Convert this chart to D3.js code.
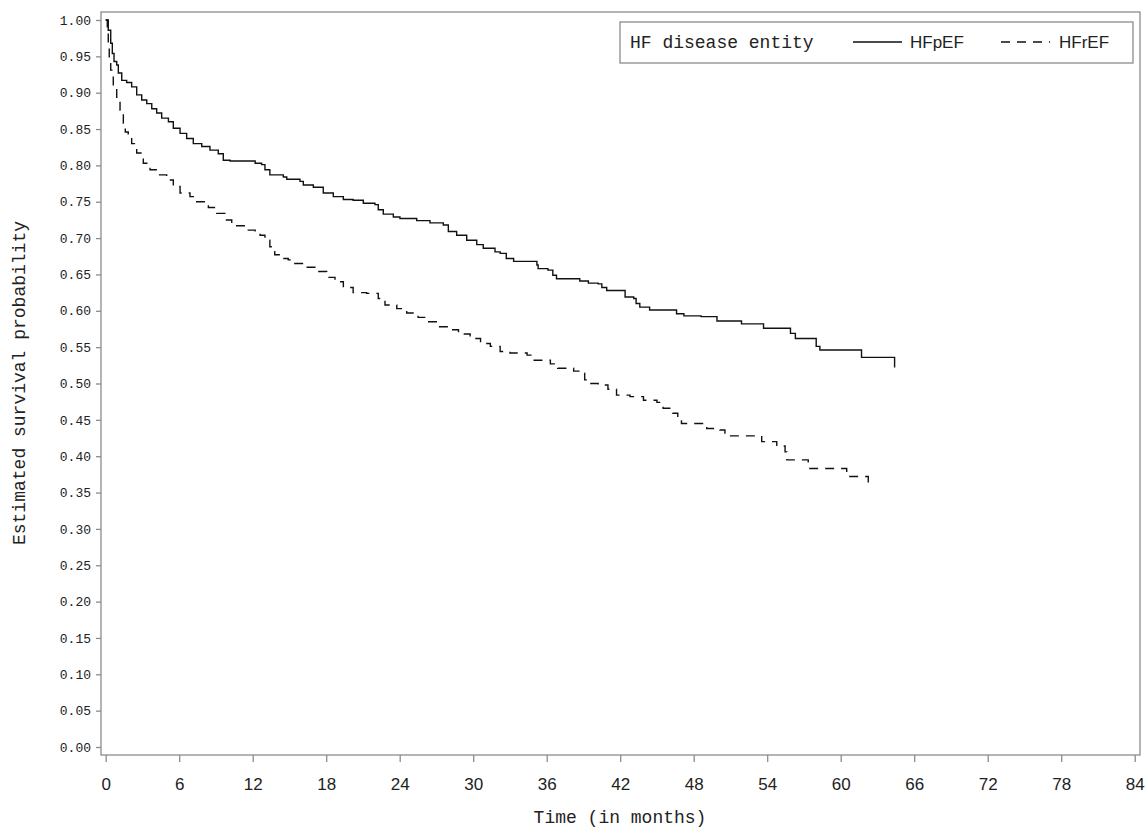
<!DOCTYPE html>
<html>
<head>
<meta charset="utf-8">
<script src="https://cdn.jsdelivr.net/npm/d3@7"></script>
<style>
  html, body { margin: 0; padding: 0; background: #fff; }
  svg { display: block; }
</style>
</head>
<body>
<svg id="chart" width="1148" height="831"></svg>
<script>
// ---- data ----
const xTicks = [0, 6, 12, 18, 24, 30, 36, 42, 48, 54, 60, 66, 72, 78, 84];
const yTicks = [0, 0.05, 0.10, 0.15, 0.20, 0.25, 0.30, 0.35, 0.40, 0.45, 0.50,
                0.55, 0.60, 0.65, 0.70, 0.75, 0.80, 0.85, 0.90, 0.95, 1.00];
const seriesNames = ["HFpEF", "HFrEF"];
const legendTitle = "HF disease entity";
const xTitle = "Time (in months)";
const yTitle = "Estimated survival probability";

const hfpefTime = [0, 0.21, 0.41, 0.54, 0.68, 0.90, 1.03, 1.31, 1.71, 2.12, 2.53, 2.94, 3.35, 3.76, 4.16,
  4.57, 5.12, 5.52, 6.07, 6.61, 7.15, 7.84, 8.51, 9.19, 9.60, 10.15, 12.2, 12.73, 13.0, 13.4,
  14.5, 14.78, 15.86, 16.13, 16.95, 17.76, 18.58, 19.4, 20.2, 21.03, 21.98, 22.25, 22.66, 23.48,
  24.02, 25.39, 26.47, 27.56, 27.97, 28.65, 29.47, 30.29, 30.82, 31.78, 32.2, 32.7, 33.3, 35.2,
  35.3, 36.1, 36.5, 36.8, 38.7, 39.4, 40.2, 40.5, 40.9, 42.4, 43.1, 43.3, 43.6, 44.4, 46.6,
  47.2, 48.6, 49.9, 51.9, 53.7, 55.9, 56.3, 58.0, 58.3, 61.7, 64.4];
const hfpefSurv = [1.000, 0.986, 0.968, 0.954, 0.943, 0.938, 0.927, 0.917, 0.914, 0.908, 0.897, 0.890, 0.885, 0.878, 0.872,
  0.865, 0.860, 0.851, 0.844, 0.837, 0.830, 0.826, 0.821, 0.816, 0.807, 0.806, 0.803, 0.801, 0.794, 0.787,
  0.784, 0.781, 0.778, 0.773, 0.770, 0.762, 0.757, 0.753, 0.752, 0.748, 0.746, 0.739, 0.733, 0.729,
  0.727, 0.724, 0.721, 0.718, 0.709, 0.704, 0.697, 0.691, 0.686, 0.681, 0.679, 0.672, 0.668, 0.663,
  0.658, 0.656, 0.649, 0.644, 0.641, 0.638, 0.637, 0.632, 0.628, 0.619, 0.617, 0.610, 0.605, 0.601, 0.596,
  0.593, 0.592, 0.586, 0.582, 0.576, 0.569, 0.562, 0.551, 0.546, 0.536, 0.522];

const hfrefTime = [0, 0.13, 0.21, 0.29, 0.41, 0.62, 0.90, 1.17, 1.44, 1.6, 1.84, 2.12, 2.53, 3.07, 3.62,
  4.29, 4.98, 5.52, 6.07, 6.88, 7.43, 8.38, 9.06, 9.74, 10.29, 11.51, 12.2, 12.6, 13.0, 13.4, 13.8,
  14.37, 14.9, 15.3, 16.26, 17.22, 18.04, 18.72, 19.4, 20.2, 21.3, 22.25, 22.8, 23.76, 24.57, 25.5,
  26.3, 27.15, 27.97, 28.8, 29.75, 30.6, 31.4, 32.2, 33.0, 34.4, 34.9, 36.3, 36.9, 38.2, 38.7, 39.1,
  39.5, 40.2, 41.0, 41.7, 42.8, 43.9, 45.0, 45.5, 46.3, 46.7, 47.0, 49.06, 50.14, 50.55, 53.55,
  54.78, 55.46, 55.6, 57.35, 60.49, 62.25];
const hfrefSurv = [1.000, 0.982, 0.968, 0.945, 0.931, 0.908, 0.890, 0.876, 0.858, 0.846, 0.840, 0.830, 0.817, 0.803, 0.794,
  0.787, 0.780, 0.771, 0.762, 0.757, 0.750, 0.742, 0.734, 0.725, 0.717, 0.711, 0.707, 0.704, 0.697, 0.688, 0.677,
  0.672, 0.670, 0.665, 0.660, 0.654, 0.646, 0.640, 0.632, 0.625, 0.624, 0.617, 0.608, 0.603, 0.597, 0.591,
  0.585, 0.578, 0.574, 0.568, 0.562, 0.555, 0.551, 0.544, 0.542, 0.539, 0.532, 0.527, 0.521, 0.517, 0.514, 0.505,
  0.500, 0.498, 0.492, 0.484, 0.482, 0.477, 0.474, 0.466, 0.459, 0.452, 0.445, 0.438, 0.436, 0.428, 0.420,
  0.414, 0.406, 0.395, 0.383, 0.372, 0.363];

// ---- layout ----
const frame = { left: 101, top: 12, right: 1140, bottom: 755 };
const svg = d3.select("#chart");
const x = d3.scaleLinear().domain([0, 84]).range([105.7, 1134.7]);
const y = d3.scaleLinear().domain([0, 1]).range([747, 20]);

const axisColor = "#8c8c8c";
const monoFont = "'Liberation Mono', 'DejaVu Sans Mono', monospace";
const sansFont = "'Liberation Sans', Arial, sans-serif";

svg.append("rect").attr("width", 1148).attr("height", 831).attr("fill", "#fff");

// Y axis
const yAxis = svg.append("g")
  .attr("transform", `translate(${frame.left},0)`)
  .call(d3.axisLeft(y).tickValues(yTicks).tickSize(5).tickPadding(5).tickFormat(d3.format(".2f")));
yAxis.select(".domain").remove();
yAxis.selectAll(".tick line").attr("stroke", axisColor).attr("stroke-width", 1.3);
yAxis.selectAll(".tick text").attr("font-family", monoFont).attr("font-size", 13).attr("fill", "#222");

// X axis
const xAxis = svg.append("g")
  .attr("transform", `translate(0,${frame.bottom})`)
  .call(d3.axisBottom(x).tickValues(xTicks).tickSize(7).tickPadding(16).tickFormat(d3.format("d")));
xAxis.select(".domain").remove();
xAxis.selectAll(".tick line").attr("stroke", axisColor).attr("stroke-width", 1.3);
xAxis.selectAll(".tick text").attr("font-family", sansFont).attr("font-size", 17).attr("fill", "#222");

// frame
svg.append("rect")
  .attr("x", frame.left).attr("y", frame.top)
  .attr("width", frame.right - frame.left).attr("height", frame.bottom - frame.top)
  .attr("fill", "none").attr("stroke", axisColor).attr("stroke-width", 1.3);

// curves
const line = d3.line().x(d => x(d[0])).y(d => y(d[1])).curve(d3.curveStepAfter);
const pefData = hfpefTime.map((t, i) => [t, hfpefSurv[i]]);
const refData = hfrefTime.map((t, i) => [t, hfrefSurv[i]]);

svg.append("path").datum(pefData).attr("d", line)
  .attr("fill", "none").attr("stroke", "#111").attr("stroke-width", 1.4);
svg.append("path").datum(refData).attr("d", line)
  .attr("fill", "none").attr("stroke", "#111").attr("stroke-width", 1.4)
  .attr("stroke-dasharray", "9,7");

// axis titles
svg.append("text").attr("x", 620).attr("y", 823).attr("text-anchor", "middle")
  .attr("font-family", monoFont).attr("font-size", 18).attr("fill", "#222").text(xTitle);
svg.append("text").attr("transform", "translate(25,383) rotate(-90)").attr("text-anchor", "middle")
  .attr("font-family", monoFont).attr("font-size", 18).attr("fill", "#222").text(yTitle);

// legend
const lg = svg.append("g");
lg.append("rect").attr("x", 620).attr("y", 22).attr("width", 513).attr("height", 41)
  .attr("fill", "#fff").attr("stroke", axisColor).attr("stroke-width", 1.3);
lg.append("text").attr("x", 630).attr("y", 48).attr("font-family", monoFont).attr("font-size", 18)
  .attr("fill", "#222").text(legendTitle);
lg.append("line").attr("x1", 853).attr("x2", 902).attr("y1", 42).attr("y2", 42)
  .attr("stroke", "#111").attr("stroke-width", 1.4);
lg.append("text").attr("x", 910).attr("y", 48).attr("font-family", "'Liberation Sans Narrow', " + sansFont)
  .attr("font-size", 17).attr("fill", "#222").text(seriesNames[0]);
lg.append("line").attr("x1", 1001).attr("x2", 1050).attr("y1", 42).attr("y2", 42)
  .attr("stroke", "#111").attr("stroke-width", 1.4).attr("stroke-dasharray", "9,7");
lg.append("text").attr("x", 1059).attr("y", 48).attr("font-family", "'Liberation Sans Narrow', " + sansFont)
  .attr("font-size", 17).attr("fill", "#222").text(seriesNames[1]);
</script>
</body>
</html>
